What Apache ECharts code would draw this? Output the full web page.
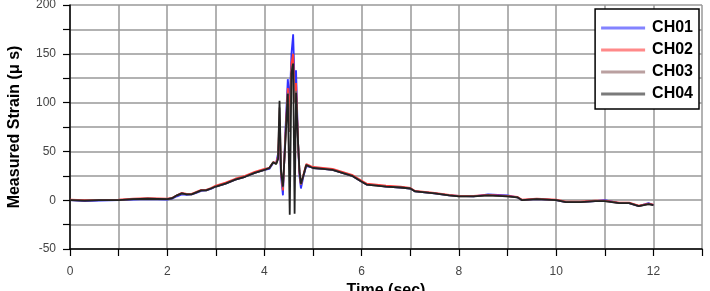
<!DOCTYPE html>
<html>
<head>
    <meta charset="utf-8">
    <title>Measured Strain</title>
    <script src="https://cdn.jsdelivr.net/npm/echarts@6/dist/echarts.min.js"></script>
    <style>
        html, body { margin: 0; padding: 0; background: #fff; }
    </style>
</head>
<body>
    <div id="main" style="width: 710px;height:291px;"></div>
    <script type="text/javascript">
        // time (sec)
        var time = [0, 0.3, 0.6, 1.0, 1.3, 1.6, 2.0, 2.1, 2.2, 2.3, 2.4, 2.5, 2.6, 2.7, 2.8, 2.9, 3.0, 3.2, 3.4, 3.6, 3.8, 4.0, 4.1, 4.18,
            4.24, 4.28, 4.31, 4.34, 4.38, 4.43, 4.48, 4.52, 4.555, 4.59, 4.62, 4.65, 4.69, 4.72, 4.75, 4.80, 4.86, 4.95,
            5.0, 5.2, 5.4, 5.6, 5.8, 6.0, 6.1, 6.3, 6.5, 6.8, 7.0, 7.1, 7.3, 7.5, 7.8, 8.0, 8.3, 8.6, 9.0, 9.2, 9.3, 9.6, 10.0, 10.2, 10.5, 10.8, 11.0, 11.3, 11.5, 11.7, 11.9, 12.0];

        var ch01 = [0, -1, -0.5, 0, 0.5, 1, 0.5, 1.5, 4, 6, 5.5, 6, 7.5, 9.5, 10, 11.5, 14, 17, 21, 24, 28, 31, 32, 38,
            38, 48, 65, 25, 5, 70, 124, 100, 150, 170, 120, 133, 60, 25, 12, 24, 35, 34,
            33, 32, 31, 28, 25, 19, 16, 15.5, 14, 13, 12, 9, 8, 7, 5, 4.5, 4, 6, 5, 3, 0, 1, 0, -2, -2, -1, 0, -3, -3, -6, -3, -5];
        var ch02 = [0.5, 0, 0, 0.5, 1.5, 2, 1.5, 2.5, 5, 7.5, 6.5, 6.5, 8.5, 10.5, 10.5, 12.5, 15, 18, 22, 25, 29, 32, 33, 39,
            38, 45, 80, 28, 10, 65, 115, 90, 140, 150, 110, 120, 60, 28, 16, 26, 37, 35,
            34, 33, 32, 29, 26, 20, 17, 16, 15, 14, 12.5, 9.5, 8.5, 7.5, 5.5, 4.5, 4.5, 5.5, 4.5, 3.5, 0.5, 1.5, 0.5, -1.5, -1.5, -0.5, -0.5, -2.5, -2.5, -5.5, -3.5, -4.5];
        var ch03 = [0, -0.5, 0, 0, 1, 1.5, 1, 2, 5, 7, 6, 6, 8, 10, 10, 12, 14, 17, 21, 24, 28, 31, 33, 39,
            37, 43, 95, 30, 13, 62, 110, 70, 135, 140, 100, 112, 60, 30, 16, 25, 36, 34,
            33, 32, 31, 28, 25, 19, 16, 15, 14, 13, 12, 9, 8, 7, 5, 4, 4, 5, 4, 3, 0, 1, 0, -2, -2, -1, -1, -3, -3, -6, -4, -5];
        var ch04 = [0, -0.5, 0, 0, 1, 1.5, 1, 2, 5, 7, 6, 6, 8, 10, 10, 12, 14, 17, 21, 24, 28, 31, 33, 39,
            37, 42, 102, 30, 14, 60, 109, -15, 130, 140, -14, 110, 60, 30, 17, 25, 36, 34,
            33, 32, 31, 28, 25, 19, 16, 15, 14, 13, 12, 9, 8, 7, 5, 4, 4, 5, 4, 3, 0, 1, 0, -2, -2, -1, -1, -3, -3, -6, -4, -5];

        var names = ['CH01', 'CH02', 'CH03', 'CH04'];
        var colors = ['#3030ff', '#ff3a3a', '#8c6060', '#222222'];
        var channels = [ch01, ch02, ch03, ch04];

        var font = 'Liberation Sans, Arial, sans-serif';
        var myChart = echarts.init(document.getElementById('main'));

        var series = channels.map(function (vals, k) {
            return {
                name: names[k],
                type: 'line',
                symbol: 'none',
                color: colors[k],
                lineStyle: { width: 1.8, color: colors[k] },
                data: vals.map(function (v, i) { return [time[i], v]; })
            };
        });

        var option = {
            animation: false,
            backgroundColor: '#fff',
            textStyle: { fontFamily: font },
            grid: { left: 70, right: 8, top: 5, bottom: 42, containLabel: false, outerBoundsMode: 'none' },
            legend: {
                orient: 'vertical',
                right: 11,
                top: 9,
                padding: [11, 6, 7, 6],
                itemGap: 6,
                itemWidth: 44,
                itemHeight: 3,
                icon: 'rect',
                itemStyle: { opacity: 0.6 },
                backgroundColor: '#fff',
                borderColor: '#000',
                borderWidth: 1.5,
                borderRadius: 0,
                textStyle: { fontFamily: font, fontWeight: 'bold', fontSize: 16, color: '#000', padding: [0, 0, 0, 2] },
                data: names
            },
            xAxis: {
                type: 'value',
                min: 0,
                max: 13,
                interval: 1,
                name: 'Time (sec)',
                nameLocation: 'middle',
                nameGap: 30,
                nameTextStyle: { fontFamily: font, fontWeight: 'bold', fontSize: 16, color: '#000' },
                axisLine: { onZero: false, lineStyle: { color: '#000', width: 1.5 } },
                axisTick: { length: 7, lineStyle: { color: '#000', width: 1.2 } },
                axisLabel: {
                    margin: 17, fontSize: 12, color: '#444', fontFamily: font,
                    formatter: function (v) { return v % 2 === 0 && v <= 12 ? String(v) : ''; }
                },
                splitLine: { show: true, lineStyle: { color: '#999', width: 1.5 } }
            },
            yAxis: {
                type: 'value',
                min: -50,
                max: 200,
                interval: 25,
                name: 'Measured Strain (\u03bc s)',
                nameLocation: 'middle',
                nameGap: 47,
                nameTextStyle: { fontFamily: font, fontWeight: 'bold', fontSize: 16, color: '#000' },
                axisLine: { show: true, lineStyle: { color: '#000', width: 1.5 } },
                axisTick: { show: true, length: 7, lineStyle: { color: '#000', width: 1.2 } },
                axisLabel: {
                    margin: 14, fontSize: 12, color: '#444', fontFamily: font,
                    formatter: function (v) { return v % 50 === 0 ? String(v) : ''; }
                },
                splitLine: { show: true, lineStyle: { color: '#999', width: 1.5 } }
            },
            series: series
        };
        myChart.setOption(option);
    </script>
</body>
</html>
